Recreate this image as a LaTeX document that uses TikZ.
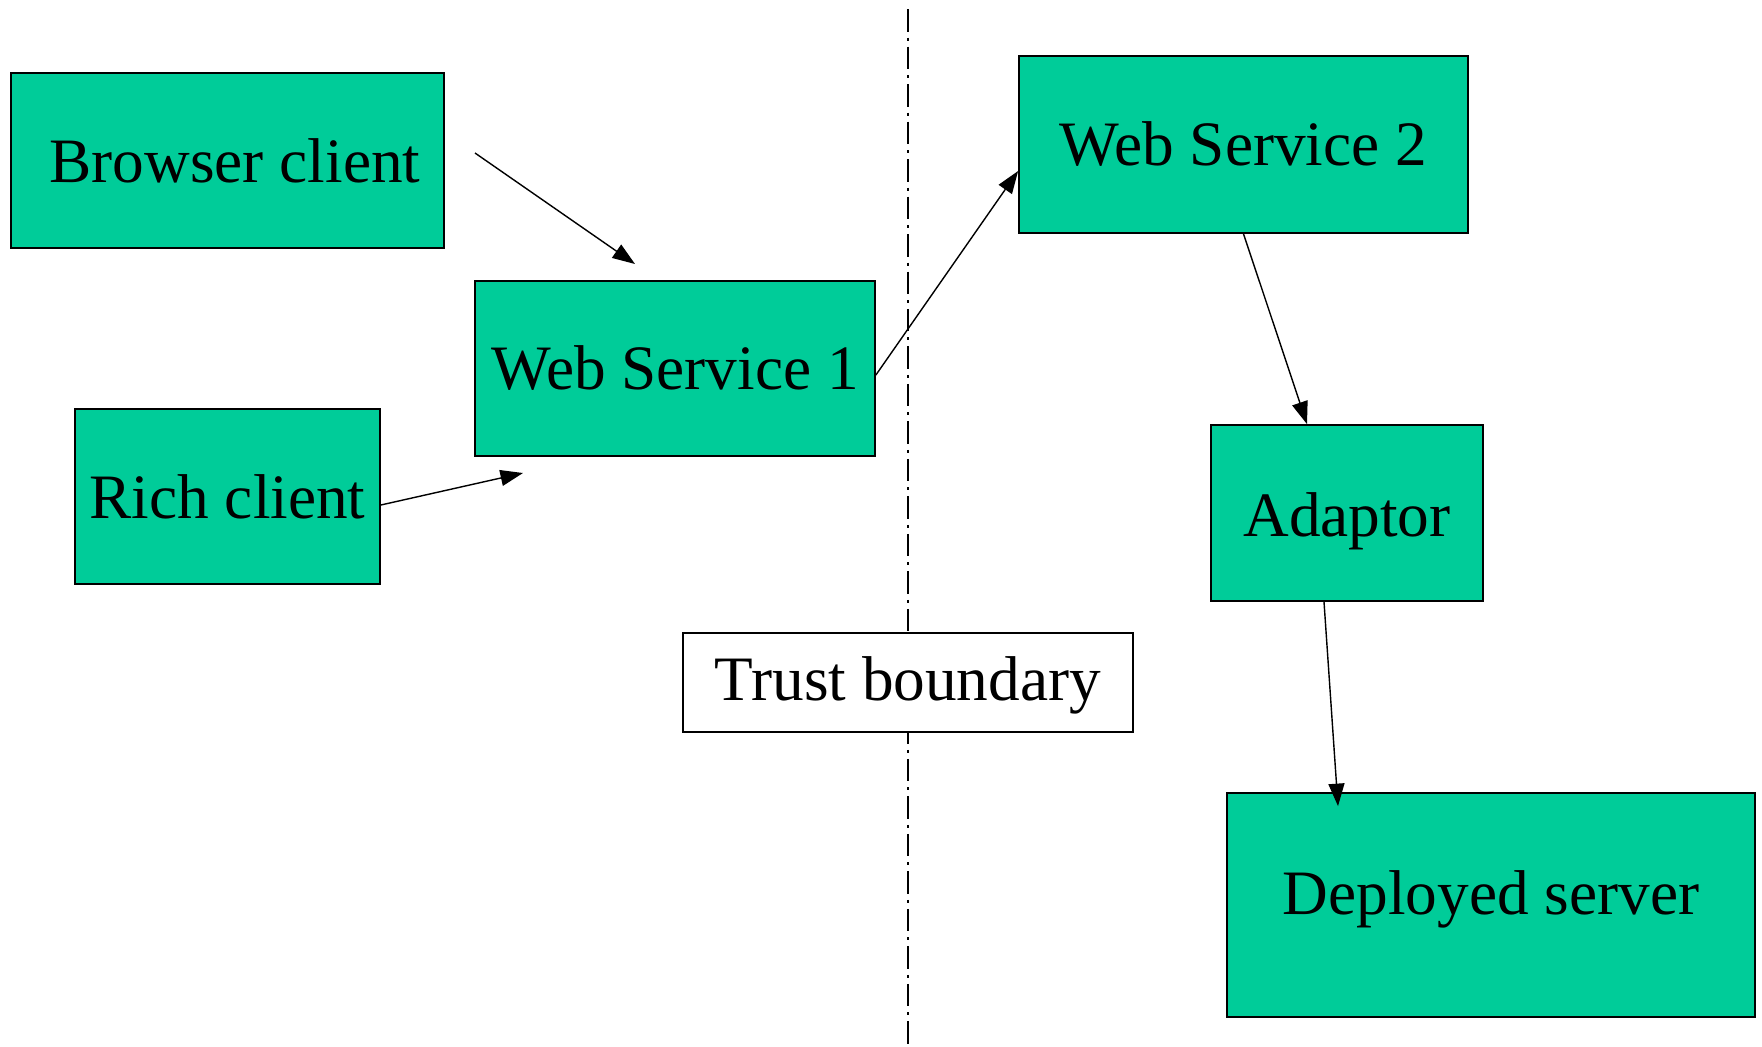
\documentclass[tikz,border=0pt]{standalone}
\usepackage{fontspec}
\setmainfont{Liberation Serif}
\usetikzlibrary{arrows.meta}
\definecolor{boxgreen}{HTML}{00CC99}
\tikzset{
    box/.style={draw, fill=boxgreen, line width=1pt, inner sep=0pt, font=\fontsize{36}{40}\selectfont},
    flow/.style={-{Triangle[length=4.5mm,width=3.2mm]}, line width=0.8pt}
}

\begin{document}
\begin{tikzpicture}
        \useasboundingbox [fill=white] (0,0) rectangle (35.24,-20.92);
        \draw [line width=1pt, dash pattern=on 0.45cm off 0.12cm on 0.06cm off 0.12cm] (18.16,-0.18) -- (18.16,-20.92);
        \node [box, minimum width=8.66cm, minimum height=3.5cm] (browser) at (4.55,-3.21) {\hspace{0.3cm}Browser client};
        \node [box, minimum width=8cm, minimum height=3.5cm] (ws1) at (13.5,-7.37) {Web Service 1};
        \node [box, minimum width=6.1cm, minimum height=3.5cm] (rich) at (4.55,-9.93) {Rich client};
        \node [box, minimum width=8.98cm, minimum height=3.54cm] (ws2) at (24.87,-2.89) {Web Service 2};
        \node [box, minimum width=5.44cm, minimum height=3.52cm, text height=1.2cm] (adaptor) at (26.94,-10.26) {Adaptor};
        \node [box, minimum width=10.56cm, minimum height=4.48cm, text depth=0.5cm] (deployed) at (29.82,-18.1) {Deployed server};
        \node [box, fill=white, minimum width=9cm, minimum height=1.98cm, text height=1cm] (trust) at (18.16,-13.65) {Trust boundary\hspace{0.3cm}};
        \coordinate (bc out) at (9.5,-3.06);
        \coordinate (ws1 top) at (12.7,-5.28);
        \coordinate (ws1 bottom) at (10.46,-9.46);
        \draw [flow] (bc out) -- (ws1 top);
        \draw [flow] ([yshift=-0.17cm]rich.east) -- (ws1 bottom);
        \draw [flow] ([yshift=-0.13cm]ws1.east) -- ([yshift=-0.53cm]ws2.west);
        \draw [flow] (ws2.south) -- ([xshift=-0.8cm]adaptor.north);
        \draw [flow] ([xshift=-0.46cm]adaptor.south) -- ([xshift=-3.06cm,yshift=-0.28cm]deployed.north);
    \end{tikzpicture}
\end{document}
